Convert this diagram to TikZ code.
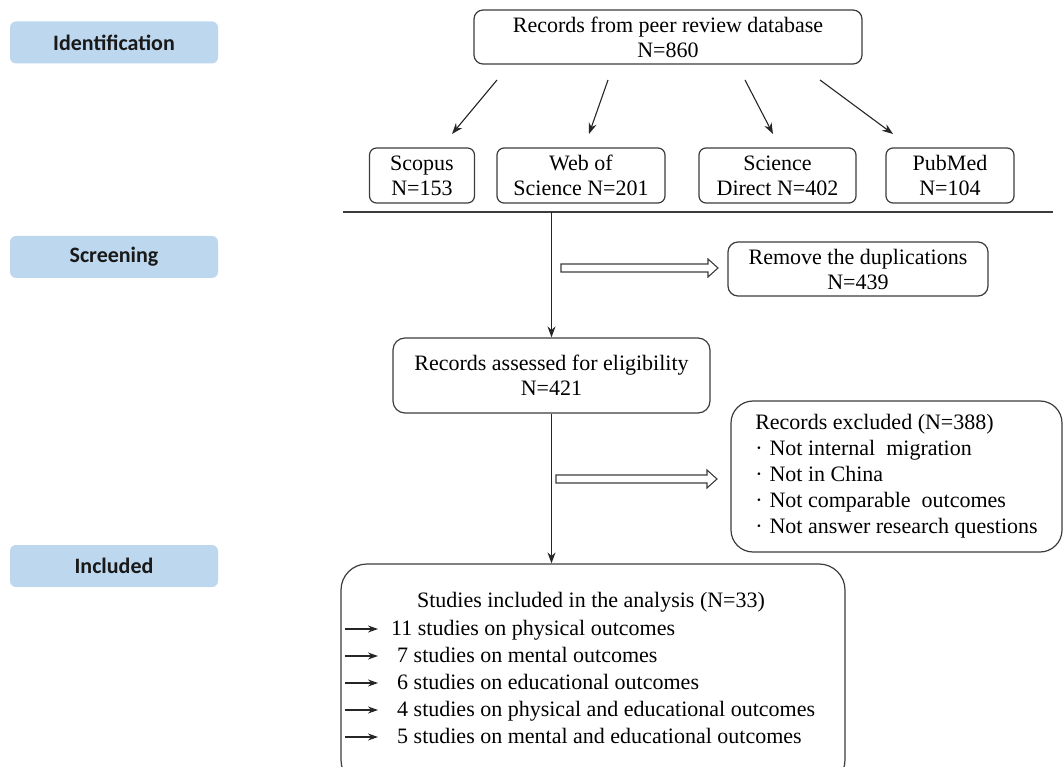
\documentclass[tikz,border=0pt]{standalone}
\usepackage{fontspec}
\setmainfont{Liberation Serif}
\newfontfamily\stagefont{Carlito}
\usetikzlibrary{arrows.meta}
\definecolor{stageblue}{HTML}{BDD7EE}
\definecolor{linegray}{HTML}{3C3C3C}
\begin{document}
\begin{tikzpicture}[x=1pt,y=-1pt,
  stage/.style={fill=stageblue, rounded corners=6pt, minimum width=208pt, minimum height=42pt, inner sep=0pt, font=\stagefont\bfseries\fontsize{22}{24}\selectfont, text=black!90},
  box/.style={draw=linegray, line width=1.2pt, rounded corners=9pt, align=center, inner sep=0pt, font=\fontsize{22}{25}\selectfont},
  txt/.style={inner sep=0pt, font=\fontsize{22}{25}\selectfont, anchor=base west},
  conn/.style={draw=black!85, line width=1.1pt, -{Stealth[length=11pt,width=8pt]}},
  smallarr/.style={draw=black!85, line width=1.1pt, -{Stealth[length=10pt,width=7pt]}},
  hollowline/.style={draw=linegray, line width=1.1pt, fill=white, line join=miter},
]
\useasboundingbox (0,0) rectangle (1063,767);
\clip (0,0) rectangle (1063,767);

% stage labels
\node[stage] (ident) at (114,42.5) {Identification};
\node[stage] (screen) at (114,257) {Screening};
\node[stage] (incl) at (114,566) {Included};

% identification
\node[box, minimum width=388pt, minimum height=54pt] (db) at (668,37) {Records from peer review database\\N=860};
\node[box, rounded corners=7pt, minimum width=105pt, minimum height=55pt] (scopus) at (422,175.5) {Scopus\\N=153};
\node[box, rounded corners=7pt, minimum width=168pt, minimum height=55pt] (wos) at (581,175.5) {Web of\\Science N=201};
\node[box, rounded corners=7pt, minimum width=157pt, minimum height=55pt] (sd) at (777.5,175.5) {Science\\Direct N=402};
\node[box, rounded corners=7pt, minimum width=128pt, minimum height=55pt] (pm) at (950,175.5) {PubMed\\N=104};

\coordinate (f1s) at (497,80); \coordinate (f1e) at (452,134);
\coordinate (f2s) at (608,80); \coordinate (f2e) at (589,134);
\coordinate (f3s) at (745,80); \coordinate (f3e) at (773,134);
\coordinate (f4s) at (820,80); \coordinate (f4e) at (893,134);
\draw[conn] (f1s) -- (f1e);
\draw[conn] (f2s) -- (f2e);
\draw[conn] (f3s) -- (f3e);
\draw[conn] (f4s) -- (f4e);

\coordinate (sepL) at (343,212);
\coordinate (sepR) at (1053,212);
\draw[draw=linegray, line width=2.5pt] (sepL) -- (sepR);

% screening
\coordinate (vtop) at (551.5,212);
\node[box, rounded corners=12pt, minimum width=317pt, minimum height=75pt] (assess) at (551.5,375.5) {Records assessed for eligibility\\N=421};
\draw[conn] (vtop) -- (assess.north);

\node[box, rounded corners=10pt, minimum width=260pt, minimum height=54pt] (dup) at (858,269) {Remove the duplications\\N=439};
\coordinate (h1s) at (561,268);
\draw[hollowline] (h1s) ++(0,-4) -- ++(147,0) -- ++(0,-5) -- ++(10,9) -- ++(-10,9) -- ++(0,-5) -- ++(-147,0) -- cycle;

\node[box, rounded corners=22pt, minimum width=331pt, minimum height=151pt, align=left, font=\fontsize{22}{26}\selectfont] (excl) at (896.5,476.5)
  {Records excluded (N=388)\\
   \textperiodcentered\hspace{7pt}Not internal\ \ migration\\
   \textperiodcentered\hspace{7pt}Not in China\\
   \textperiodcentered\hspace{7pt}Not comparable\ \ outcomes\\
   \textperiodcentered\hspace{7pt}Not answer research questions};
\coordinate (h2s) at (556,479);
\draw[hollowline] (h2s) ++(0,-4) -- ++(151,0) -- ++(0,-5) -- ++(10,9) -- ++(-10,9) -- ++(0,-5) -- ++(-151,0) -- cycle;

% included
\node[box, rounded corners=26pt, minimum width=504pt, minimum height=222pt] (incbox) at (593,675) {};
\draw[conn] (assess.south) -- (assess.south |- incbox.north);

\node[inner sep=0pt, font=\fontsize{22}{25}\selectfont, anchor=base] (inctitle) at (591,607) {Studies included in the analysis (N=33)};
\node[txt] (l1) at (391,635) {11 studies on physical outcomes};
\node[txt] (l2) at (397,662) {7 studies on mental outcomes};
\node[txt] (l3) at (397,689) {6 studies on educational outcomes};
\node[txt] (l4) at (397,716) {4 studies on physical and educational outcomes};
\node[txt] (l5) at (397,743) {5 studies on mental and educational outcomes};

\coordinate (a1) at (345,629);
\coordinate (a2) at (345,656);
\coordinate (a3) at (345,683);
\coordinate (a4) at (345,710);
\coordinate (a5) at (345,737);
\draw[smallarr, shorten >=13pt] (a1) -- (a1 -| l1.west);
\draw[smallarr, shorten >=19pt] (a2) -- (a2 -| l2.west);
\draw[smallarr, shorten >=19pt] (a3) -- (a3 -| l3.west);
\draw[smallarr, shorten >=19pt] (a4) -- (a4 -| l4.west);
\draw[smallarr, shorten >=19pt] (a5) -- (a5 -| l5.west);
\end{tikzpicture}
\end{document}
